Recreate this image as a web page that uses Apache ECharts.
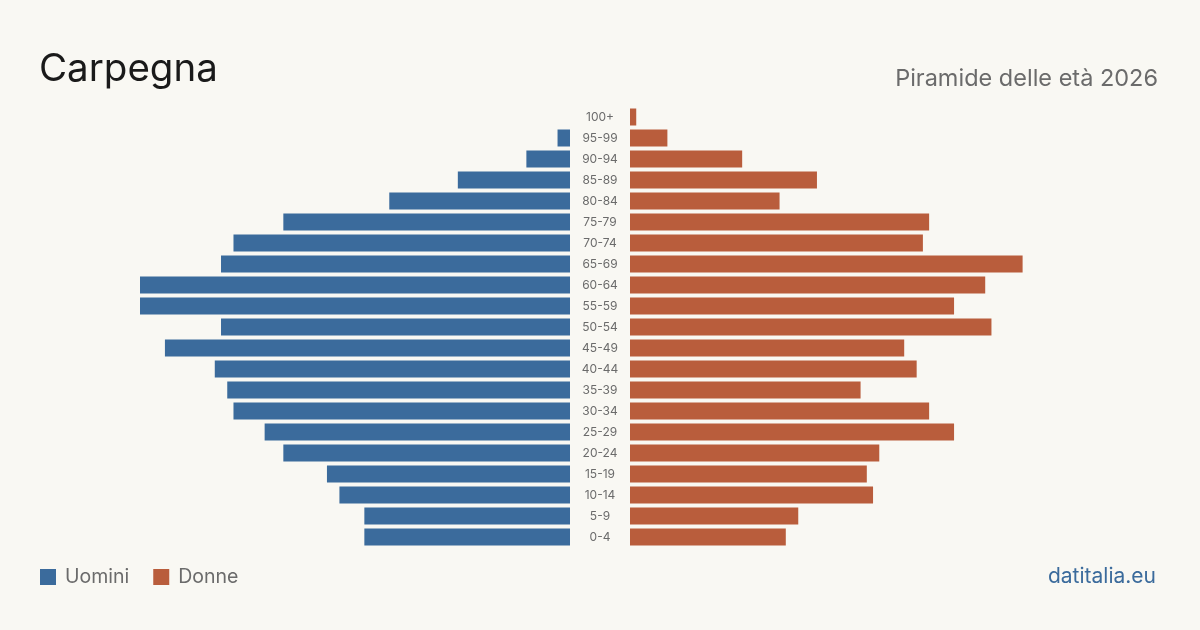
<!DOCTYPE html>
<html><head><meta charset="utf-8">
<script src="https://cdn.jsdelivr.net/npm/echarts@6/dist/echarts.min.js"></script>
<style>html,body{margin:0;padding:0;background:#f9f8f3;}#c{width:1200px;height:630px;}</style>
</head><body><div id="c"></div>
<script>
const categories = ['0-4','5-9','10-14','15-19','20-24','25-29','30-34','35-39','40-44','45-49','50-54','55-59','60-64','65-69','70-74','75-79','80-84','85-89','90-94','95-99','100+'];
const uomini = [33,33,37,39,46,49,54,55,57,65,56,69,69,56,54,46,29,18,7,2,0];
const donne  = [25,27,39,38,40,52,48,37,46,44,58,52,57,63,47,48,24,30,18,6,1];
const FONT = 'Inter, "Noto Sans", sans-serif';
const BLUE = '#3b6b9c', ORANGE = '#b95d3c';
const chart = echarts.init(document.getElementById('c'), null, {renderer:'canvas'});
chart.setOption({
  backgroundColor: '#f9f8f3',
  animation: false,
  title: [
    {text: 'Carpegna', left: 34, top: 45, textStyle: {fontFamily: FONT, fontSize: 38.5, fontWeight: 'normal', color: '#1a1a1a'}},
    {text: 'Piramide delle età 2026', right: 37, top: 62, textStyle: {fontFamily: FONT, fontSize: 23.5, fontWeight: 'normal', color: '#6b6b6b'}}
  ],
  legend: {
    left: 35, top: 562, itemWidth: 16, itemHeight: 16, itemGap: 24,
    icon: 'rect',
    textStyle: {fontFamily: FONT, fontSize: 19.5, color: '#6b6b6b', padding: [0,0,0,4]},
    data: ['Uomini','Donne']
  },
  graphic: [{type: 'text', right: 44, top: 566, style: {text: 'datitalia.eu', font: '21px ' + FONT, fill: BLUE}}],
  grid: [
    {left: 140, width: 430, top: 106.5, height: 441},
    {left: 630, width: 430, top: 106.5, height: 441}
  ],
  xAxis: [
    {gridIndex: 0, type: 'value', min: 0, max: 69, inverse: true, show: false},
    {gridIndex: 1, type: 'value', min: 0, max: 69, show: false}
  ],
  yAxis: [
    {gridIndex: 0, type: 'category', data: categories, show: false},
    {gridIndex: 1, type: 'category', data: categories, position: 'left',
     axisLine: {show: false}, axisTick: {show: false},
     axisLabel: {align: 'center', margin: 30, fontFamily: FONT, fontSize: 12, color: '#6b6b6b'}}
  ],
  series: [
    {name: 'Uomini', type: 'bar', xAxisIndex: 0, yAxisIndex: 0, data: uomini, barWidth: 17, itemStyle: {color: BLUE}},
    {name: 'Donne', type: 'bar', xAxisIndex: 1, yAxisIndex: 1, data: donne, barWidth: 17, itemStyle: {color: ORANGE}}
  ]
});
</script></body></html>
